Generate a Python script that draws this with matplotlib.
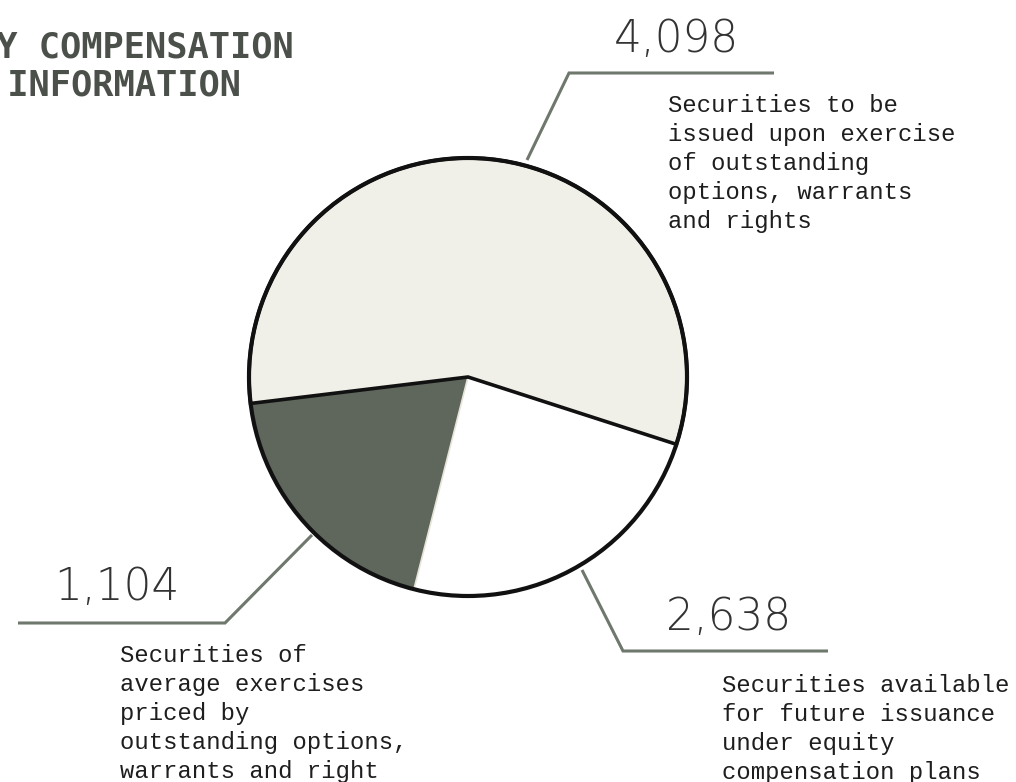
import matplotlib
matplotlib.use("Agg")
import numpy as np
import matplotlib.pyplot as plt
from matplotlib.patches import Circle

# ---- data ----
categories = [
    "Securities to be\nissued upon exercise\nof outstanding\noptions, warrants\nand rights",
    "Securities of\naverage exercises\npriced by\noutstanding options,\nwarrants and right",
    "Securities available\nfor future issuance\nunder equity\ncompensation plans",
]
value_labels = ["4,098", "1,104", "2,638"]
# slice shares as drawn in the picture (percent of circle)
slice_shares = [56.9, 19.1, 24.0]
slice_colors = ["#f0efe8", "#5f675d", "#ffffff"]

title_lines = ["EQUITY COMPENSATION", "PLAN INFORMATION"]

W, H = 1016, 782
fig = plt.figure(figsize=(W / 100, H / 100), dpi=100)
ax = fig.add_axes([0, 0, 1, 1])


def Y(py):
    return H - py


cx, cy, r = 468, 377, 219
wedges, _ = ax.pie(slice_shares, colors=slice_colors, startangle=-17.9,
                   counterclock=True, center=(cx, Y(cy)), radius=r,
                   wedgeprops=dict(linewidth=0), frame=True)
ax.set_xlim(0, W)
ax.set_ylim(0, H)
ax.set_aspect("equal")
ax.axis("off")
wedges[0].set_edgecolor("#111111")
wedges[0].set_linewidth(2.6)
wedges[0].set_zorder(3)
for w in wedges[1:]:
    w.set_zorder(2)

# thin light seam between dark and white slices
th = np.deg2rad(wedges[1].theta2)
ax.plot([cx + 3 * np.cos(th), cx + r * np.cos(th)],
        [Y(cy) + 3 * np.sin(th), Y(cy) + r * np.sin(th)],
        color="#e6e4d8", linewidth=1.2, zorder=2.5)

ax.add_patch(Circle((cx, Y(cy)), r, fill=False, edgecolor="#111111",
                    linewidth=3.0, zorder=4))

lead_color = "#6f786d"
leaders = [
    [(527, 160), (569, 73), (774, 73)],
    [(312, 535), (225, 623), (18, 623)],
    [(582, 570), (623, 651), (828, 651)],
]
for pts in leaders:
    xs = [p[0] for p in pts]
    ys = [Y(p[1]) for p in pts]
    ax.plot(xs, ys, color=lead_color, linewidth=2.2, zorder=1,
            solid_capstyle="butt", solid_joinstyle="miter")

num_font = dict(family=["DejaVu Sans"], weight="light",
                fontsize=31.5, color="#333333")
num_pos = [(676, 52), (117, 600), (729, 630)]
for lab, (x, y) in zip(value_labels, num_pos):
    ax.text(x, Y(y), lab, ha="center", va="baseline", **num_font)

desc_font = dict(family=["Liberation Mono", "DejaVu Sans Mono"],
                 fontsize=17.2, color="#1e1e1e")
desc_pos = [(668, 112), (120, 662), (722, 692)]
pitch = 29.0
for text, (x, y) in zip(categories, desc_pos):
    for i, line in enumerate(text.split("\n")):
        ax.text(x, Y(y + i * pitch), line, ha="left", va="baseline",
                **desc_font)

title_font = dict(family=["DejaVu Sans Mono"], weight="bold",
                  fontsize=25.5, color="#4b504b")
ax.text(-110, Y(57), title_lines[0], ha="left", va="baseline",
        clip_on=False, **title_font)
ax.text(-99, Y(95), title_lines[1], ha="left", va="baseline",
        clip_on=False, **title_font)

fig.savefig("out.png", dpi=100)
